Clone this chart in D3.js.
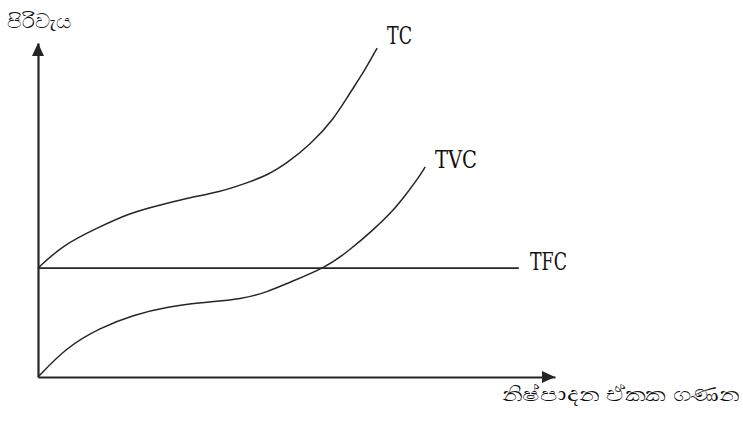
<!DOCTYPE html>
<html>
<head>
<meta charset="utf-8">
<script src="https://cdn.jsdelivr.net/npm/d3@7/dist/d3.min.js"></script>
<style>
  body { margin: 0; background: #fff; }
  svg { display: block; }
</style>
</head>
<body>
<div id="chart"></div>
<script>
// cost curves (output units, cost units)
var tfcValue = 3.26;
var tfcRange = [0, 9.3];

var tvcQty  = [0, 0.56, 1.20, 1.84, 2.50, 3.13, 3.97, 4.43, 4.87, 5.55, 6.03, 6.48, 6.85, 7.14, 7.33, 7.49];
var tvcCost = [0, 0.90, 1.47, 1.86, 2.10, 2.22, 2.34, 2.54, 2.84, 3.26, 3.80, 4.40, 4.94, 5.51, 5.90, 6.29];

var tcQty  = [0, 0.48, 1.14, 1.78, 2.22, 2.88, 3.52, 4.04, 4.45, 4.82, 5.26, 5.71, 6.03, 6.29, 6.56];
var tcCost = [3.26, 3.95, 4.46, 4.91, 5.09, 5.36, 5.54, 5.81, 6.05, 6.41, 6.95, 7.69, 8.50, 9.10, 9.85];

var yLabel = 'පිරිවැය';
var xLabel = 'නිෂ්පාදන ඒකක ගණන';

var width = 743, height = 421;

var svg = d3.select('#chart').append('svg')
  .attr('width', width)
  .attr('height', height);

var x = d3.scaleLinear().domain([0, 10]).range([38, 555]);
var y = d3.scaleLinear().domain([0, 10]).range([377, 43]);

var ink = '#262626';

// axes, no ticks: only the domain lines
svg.append('g')
  .attr('transform', 'translate(0,' + y(0) + ')')
  .call(d3.axisBottom(x).tickValues([]).tickSizeOuter(0))
  .select('.domain')
    .attr('stroke', ink)
    .attr('stroke-width', 2.2);

svg.append('g')
  .attr('transform', 'translate(' + x(0) + ',0)')
  .call(d3.axisLeft(y).tickValues([]).tickSizeOuter(0))
  .select('.domain')
    .attr('stroke', ink)
    .attr('stroke-width', 2.2);

// arrow heads
svg.append('path')
  .attr('d', 'M' + x(10) + ',' + y(0) + 'l-13,-6l0,12z')
  .style('fill', ink);
svg.append('path')
  .attr('d', 'M' + x(0) + ',' + y(10) + 'l-6,13l12,0z')
  .style('fill', ink);

// TFC
svg.append('line')
  .attr('x1', x(tfcRange[0])).attr('x2', x(tfcRange[1]))
  .attr('y1', y(tfcValue)).attr('y2', y(tfcValue))
  .attr('stroke', ink)
  .attr('stroke-width', 1.8);

var line = d3.line()
  .x(function(d){ return x(d[0]); })
  .y(function(d){ return y(d[1]); })
  .curve(d3.curveBasis);

svg.append('path')
  .datum(d3.zip(tvcQty, tvcCost))
  .attr('d', line)
  .style('fill', 'none')
  .attr('stroke', ink)
  .attr('stroke-width', 1.5);

svg.append('path')
  .datum(d3.zip(tcQty, tcCost))
  .attr('d', line)
  .style('fill', 'none')
  .attr('stroke', ink)
  .attr('stroke-width', 1.5);

// curve labels (narrow slab-serif look)
function label(txt, px, py, len){
  svg.append('text')
    .attr('x', px)
    .attr('y', py)
    .attr('textLength', len)
    .attr('lengthAdjust', 'spacingAndGlyphs')
    .style('font-family', "'DejaVu Serif', 'Liberation Serif', serif")
    .style('font-size', '24px')
    .style('fill', '#111')
    .text(txt);
}
label('TC', 387, 44, 25);
label('TVC', 435, 168, 42);
label('TFC', 530, 270, 37);

// axis titles
svg.append('text')
  .attr('x', 7)
  .attr('y', 28)
  .attr('textLength', 64)
  .attr('lengthAdjust', 'spacingAndGlyphs')
  .style('font-family', '"Noto Sans", "DejaVu Sans", sans-serif')
  .style('font-size', '20px')
  .style('fill', '#111')
  .text(yLabel);

svg.append('text')
  .attr('x', 502)
  .attr('y', 401)
  .attr('textLength', 237)
  .attr('lengthAdjust', 'spacingAndGlyphs')
  .style('font-family', '"Noto Sans", "DejaVu Sans", sans-serif')
  .style('font-size', '20px')
  .style('fill', '#111')
  .text(xLabel);
</script>
</body>
</html>
